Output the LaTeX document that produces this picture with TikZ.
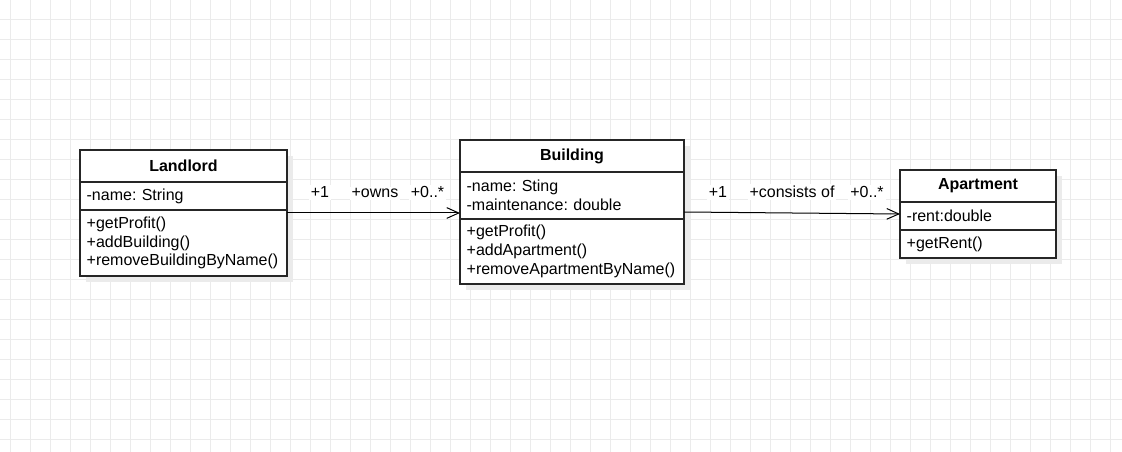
\documentclass[tikz,border=0pt]{standalone}
\usepackage{fontspec}
\setmainfont{Liberation Sans}
\usetikzlibrary{arrows.meta,shadows}
\frenchspacing
\begin{document}
\begin{tikzpicture}[x=0.75pt,y=-0.75pt,
  gridline/.style={draw=black!8, line width=0.75pt},
  txt/.style={font=\fontsize{12pt}{14pt}\selectfont},
  classbox/.style={draw=black!85, line width=0.9pt, fill=white, inner sep=0pt, outer sep=0pt,
    drop shadow={shadow xshift=4.5pt, shadow yshift=-4.5pt, draw=none, fill=black!8, opacity=1}},
  head/.style={txt, draw=black!85, line width=0.9pt, font=\fontsize{12pt}{14pt}\selectfont\bfseries, inner sep=0pt, outer sep=0pt, anchor=north},
  comp/.style={txt, draw=black!85, line width=0.9pt, align=left, inner xsep=5pt, inner ysep=0pt, outer sep=0pt, anchor=north},
  assoc/.style={draw=black, line width=0.75pt, -{Straight Barb[length=9pt,width=8pt]}},
  lbl/.style={txt, fill=white, inner sep=1.5pt, anchor=base}
]
\useasboundingbox (0,0) rectangle (1122,452);
\fill[white] (0,0) rectangle (1122,452);
\foreach \x in {10,30,...,1110} \draw[gridline] (\x,0) -- (\x,452);
\foreach \y in {0,20,...,440} \draw[gridline] (0,\y) -- (1122,\y);

% Landlord
\node[classbox, minimum width=155.25pt, minimum height=94.5pt] (landlord) at (183.5,213) {};
\node[head, minimum width=155.25pt, minimum height=24pt] (landlord-head) at (landlord.north) {Landlord};
\node[comp, text width=145.25pt, minimum height=21pt] (landlord-attr) at (landlord-head.south) {-name: String};
\node[comp, text width=145.25pt, minimum height=49.5pt] (landlord-ops) at (landlord-attr.south) {+getProfit()\\+addBuilding()\\+removeBuildingByName()};

% Building
\node[classbox, minimum width=168pt, minimum height=108pt] (building) at (572,212) {};
\node[head, minimum width=168pt, minimum height=24pt] (building-head) at (building.north) {Building};
\node[comp, text width=158pt, minimum height=35.25pt] (building-attr) at (building-head.south) {-name: Sting\\-maintenance: double};
\node[comp, text width=158pt, minimum height=48.75pt] (building-ops) at (building-attr.south) {+getProfit()\\+addApartment()\\+removeApartmentByName()};

% Apartment
\node[classbox, minimum width=117pt, minimum height=66pt] (apartment) at (978,214) {};
\node[head, minimum width=117pt, minimum height=24pt] (apartment-head) at (apartment.north) {Apartment};
\node[comp, text width=107pt, minimum height=21pt] (apartment-attr) at (apartment-head.south) {-rent:double};
\node[comp, text width=107pt, minimum height=21pt] (apartment-ops) at (apartment-attr.south) {+getRent()};

% connectors
\draw[assoc] (landlord.east) -- (landlord.east -| building.west);
\draw[assoc] (building.east) -- (apartment.west);

% labels
\node[lbl] (l1a) at (320,198) {+1};
\node[lbl] (l1b) at (375,198) {+owns};
\node[lbl] (l1c) at (427.5,198) {+0..*};
\node[lbl] (l2a) at (718,198) {+1};
\node[lbl] (l2b) at (792,198) {+consists of};
\node[lbl] (l2c) at (867,198) {+0..*};
\end{tikzpicture}
\end{document}
